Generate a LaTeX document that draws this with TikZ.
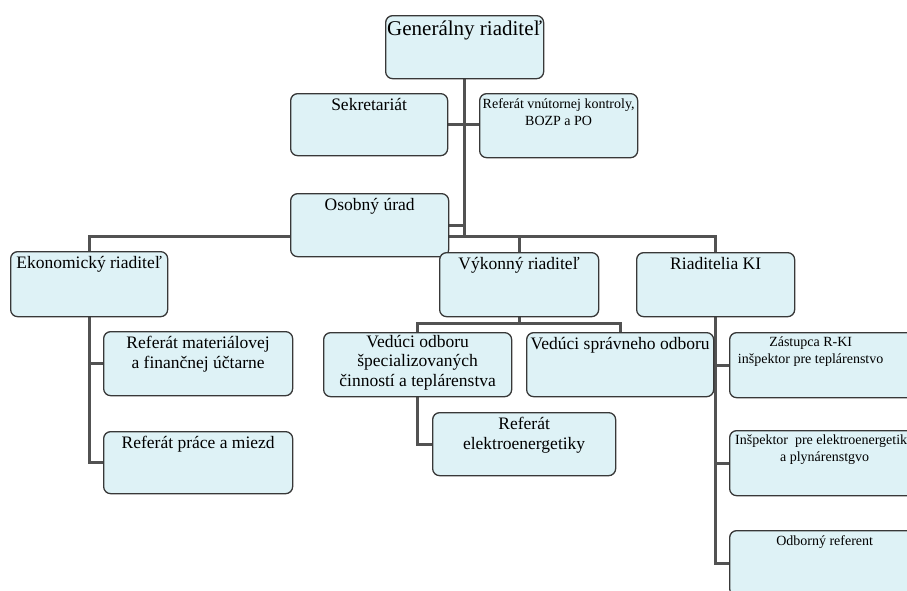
\documentclass[tikz,border=0pt]{standalone}
\usepackage{fontspec}
\setmainfont{Liberation Serif}
\usetikzlibrary{backgrounds}
\usetikzlibrary{positioning}

\definecolor{boxfill}{HTML}{DEF2F6}
\definecolor{boxline}{HTML}{383838}
\definecolor{conn}{HTML}{525252}

\tikzset{
  orgbox/.style={draw=boxline,fill=boxfill,rounded corners=7pt,line width=1.3pt,anchor=north west,inner sep=0pt},
  txt/.style={anchor=north,align=center,yshift=-4pt,inner sep=1pt,font=\fontsize{17.5}{19.5}\selectfont},
  smalltxt/.style={txt,font=\fontsize{14}{17}\selectfont},
  bigtxt/.style={txt,yshift=-1pt,font=\fontsize{21}{24}\selectfont},
  link/.style={draw=conn,line width=3pt}
}

\begin{document}
\begin{tikzpicture}[x=1pt,y=-1pt]
\useasboundingbox (0,0) rectangle (907,590);
\clip (0,0) rectangle (907,590);

\node[orgbox,minimum width=158pt,minimum height=63pt,label={[bigtxt]north:Generálny riaditeľ}] (gen) at (385,15) {};
\node[orgbox,minimum width=157pt,minimum height=62pt,label={[txt]north:Sekretariát}] (sekr) at (290,93) {};
\node[orgbox,minimum width=158pt,minimum height=64pt,label={[smalltxt]north:Referát vnútornej kontroly,\\BOZP a PO}] (refvk) at (479,93) {};
\node[orgbox,minimum width=158pt,minimum height=63pt,label={[txt]north:Osobný úrad}] (osob) at (290,193) {};

\node[orgbox,minimum width=157pt,minimum height=65pt,label={[txt]north:Ekonomický riaditeľ}] (ekon) at (10,251) {};
\node[orgbox,minimum width=159pt,minimum height=64pt,label={[txt]north:Výkonný riaditeľ}] (vyk) at (439,252) {};
\node[orgbox,minimum width=158pt,minimum height=64pt,label={[txt]north:Riaditelia KI}] (rki) at (636,252) {};

\node[orgbox,minimum width=189pt,minimum height=64pt,label={[txt]north:Referát materiálovej\\a finančnej účtarne}] (refmat) at (103,331) {};
\node[orgbox,minimum width=189pt,minimum height=62pt,label={[txt]north:Referát práce a miezd}] (refpm) at (103,431) {};

\node[orgbox,minimum width=188pt,minimum height=64pt,label={[txt,yshift=2pt]north:Vedúci odboru\\špecializovaných\\činností a teplárenstva}] (vodb) at (323,332) {};
\node[orgbox,minimum width=187pt,minimum height=64pt,label={[txt]north:Vedúci správneho odboru}] (vspr) at (526,332) {};
\node[orgbox,minimum width=183pt,minimum height=63pt,label={[txt]north:Referát\\elektroenergetiky}] (refel) at (432,412) {};

\node[orgbox,minimum width=190pt,minimum height=65pt,label={[smalltxt,xshift=-14pt]north:Zástupca R-KI\\inšpektor pre teplárenstvo}] (zast) at (729,332) {};
\node[orgbox,minimum width=190pt,minimum height=65pt,label={[smalltxt]north:Inšpektor~ pre elektroenergetiky\\a plynárenstgvo}] (insp) at (729,430) {};
\node[orgbox,minimum width=190pt,minimum height=65pt,label={[smalltxt]north:Odborný referent}] (odb) at (729,530) {};

\begin{scope}[on background layer]
\coordinate (bus) at (0,236);
\coordinate (vbus) at (0,323);
\draw[link] (gen.south) -- (gen.south |- bus);
\draw[link] (sekr.east) -- (sekr.east -| refvk.west);
\draw[link] (osob.east) -- (osob.east -| gen.south);
\draw[link] (ekon.north) -- (ekon.north |- bus) -- (rki.north |- bus) -- (rki.north);
\draw[link] (vyk.north |- bus) -- (vyk.north);
\draw[link] (ekon.south) |- (refpm.west);
\draw[link] (ekon.south |- refmat.west) -- (refmat.west);
\draw[link] (vyk.south) -- (vyk.south |- vbus);
\draw[link] (vodb.north) -- (vodb.north |- vbus) -- (vspr.north |- vbus) -- (vspr.north);
\draw[link] (vodb.south) |- (refel.west);
\draw[link] (rki.south) |- (odb.west);
\draw[link] (rki.south |- zast.west) -- (zast.west);
\draw[link] (rki.south |- insp.west) -- (insp.west);
\end{scope}

\end{tikzpicture}
\end{document}
